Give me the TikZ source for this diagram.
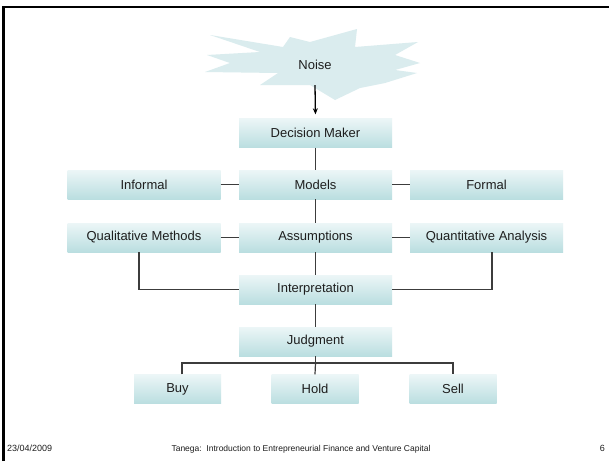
\documentclass[tikz,border=0pt]{standalone}
\usepackage{fontspec}
\setmainfont{Liberation Sans}
\usetikzlibrary{arrows.meta}
\definecolor{boxtop}{RGB}{236,246,247}
\definecolor{boxbot}{RGB}{186,222,224}
\definecolor{starfill}{RGB}{218,236,238}
\definecolor{txt}{RGB}{30,30,30}
\definecolor{conn}{RGB}{60,60,60}
\tikzset{
  stepbox/.style={minimum width=153pt, minimum height=29pt, inner sep=0pt,
    top color=boxtop, bottom color=boxbot, draw=none, text=txt,
    font=\fontsize{13}{15}\selectfont},
  smallbox/.style={stepbox, minimum width=87pt},
  link/.style={draw=conn, line width=1.2pt},
  footer/.style={font=\fontsize{8.5}{10}\selectfont, text=txt, inner sep=0pt}
}
\begin{document}
\begin{tikzpicture}[x=1pt,y=-1pt]
\useasboundingbox (0,0) rectangle (609,461);
\fill[white] (0,0) rectangle (609,461);
% frame
\draw[line width=2.7pt] (3.5,461) -- (3.5,7) -- (609,7);
% star
\fill[starfill] (210,35) -- (283,47) -- (290,37) -- (310,42) -- (357,29) -- (355,47)
  -- (418,42) -- (395,55) -- (420,63) -- (395,70) -- (417,73) -- (385,83)
  -- (360,88) -- (335,100) -- (310,85) -- (260,85) -- (278,73) -- (205,72)
  -- (230,63) -- (207,55) -- (260,52) -- cycle;
\node[minimum height=40pt, inner sep=0pt, text=txt, font=\fontsize{13}{15}\selectfont] (noise) at (315,65) {Noise};
% boxes
\node[stepbox] (dm) at (315.5,133) {Decision Maker};
\node[stepbox] (models) at (315.5,184.5) {Models};
\node[stepbox] (informal) at (144,184.5) {Informal};
\node[stepbox] (formal) at (486.5,184.5) {Formal};
\node[stepbox] (assump) at (315.5,237.5) {Assumptions};
\node[stepbox] (qual) at (144,237.5) {Qualitative Methods};
\node[stepbox] (quant) at (486.5,237.5) {Quantitative Analysis};
\node[stepbox] (interp) at (315.5,289.5) {Interpretation};
\node[stepbox] (judg) at (315.5,341.5) {Judgment};
\node[smallbox] (buy) at (177.5,389) {Buy};
\node[smallbox] (hold) at (315,389) {Hold};
\node[smallbox] (sell) at (453,389) {Sell};
\coordinate (bus) at (315.5,363);
% connectors
\draw[line width=1.3pt, -{Stealth[length=6pt,width=5pt]}, shorten >=4pt] (noise.south) -- (dm.north);
\draw[link] (dm) -- (models);
\draw[link] (informal) -- (models);
\draw[link] (models) -- (formal);
\draw[link] (models) -- (assump);
\draw[link] (qual) -- (assump);
\draw[link] (assump) -- (quant);
\draw[link] (assump) -- (interp);
\draw[link] ([xshift=-5pt]qual.south) |- (interp.west);
\draw[link] ([xshift=5.5pt]quant.south) |- (interp.east);
\draw[link] (interp) -- (judg);
\draw[link] (judg.south) -- (bus);
\draw[link] ([xshift=4.5pt]buy.north) |- (bus) -| (sell.north);
\draw[link] (bus) -- (hold.north);
% footer
\node[footer, anchor=base west, font=\fontsize{9}{10}\selectfont] (date) at (7,451) {23/04/2009};
\node[footer, anchor=base] (title) at (301,451) {Tanega:\ \ Introduction to Entrepreneurial Finance and Venture Capital};
\node[footer, anchor=base east, font=\fontsize{9}{10}\selectfont] (page) at (605,451) {6};
\end{tikzpicture}
\end{document}
